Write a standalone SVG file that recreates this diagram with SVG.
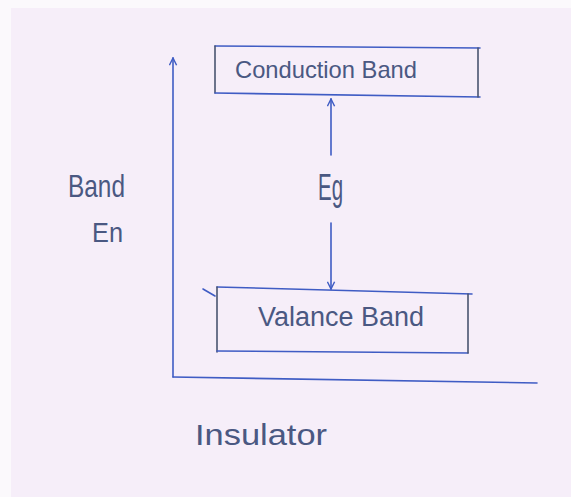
<svg xmlns="http://www.w3.org/2000/svg" width="571" height="497" viewBox="0 0 571 497">
  <style>
    .ln { stroke: #3f5cc4; stroke-width: 1.6; fill: none; stroke-linecap: round; }
    .dk { stroke: #4a5470; stroke-width: 1.6; fill: none; stroke-linecap: round; }
    .tx { font-family: "Liberation Sans", "DejaVu Sans", sans-serif; fill: #4a5882; }
  </style>
  <defs>
    <marker id="open" viewBox="0 0 10 10" refX="9" refY="5" markerWidth="9" markerHeight="9" markerUnits="userSpaceOnUse" orient="auto">
      <path d="M1,1 L9,5 L1,9" fill="none" stroke="#3f5cc4" stroke-width="1.6"/>
    </marker>
  </defs>
  <rect x="0" y="0" width="571" height="497" fill="#f6eef9"/>
  <rect x="0" y="0" width="11" height="497" fill="#fbf9fc"/>
  <rect x="0" y="0" width="571" height="8" fill="#fbf9fc"/>

  <g id="connectors">
    <line id="y-axis" class="ln" x1="173" y1="377" x2="173" y2="58" marker-end="url(#open)"/>
    <line id="x-axis" class="ln" x1="173" y1="377" x2="537" y2="383"/>
    <line id="eg-up" class="ln" x1="331" y1="155" x2="331" y2="99" marker-end="url(#open)"/>
    <line id="eg-down" class="ln" x1="331" y1="223" x2="331" y2="289" marker-end="url(#open)"/>
  </g>

  <g id="conduction-band">
    <line class="ln" x1="215" y1="46" x2="480" y2="48"/>
    <line class="dk" x1="215" y1="46" x2="215" y2="93"/>
    <line class="ln" x1="215" y1="93" x2="480" y2="97"/>
    <line class="dk" x1="478" y1="48" x2="478" y2="97"/>
    <text class="tx" x="235" y="78" font-size="24" textLength="182" lengthAdjust="spacingAndGlyphs">Conduction Band</text>
  </g>

  <g id="valence-band">
    <line class="ln" x1="217" y1="287" x2="472" y2="294"/>
    <line class="dk" x1="217" y1="287" x2="217" y2="352"/>
    <line class="ln" x1="217" y1="351" x2="468" y2="353"/>
    <line class="dk" x1="468" y1="294" x2="468" y2="353"/>
    <line class="ln" x1="203" y1="289" x2="215" y2="296"/>
    <text class="tx" x="258" y="326" font-size="27" textLength="166" lengthAdjust="spacingAndGlyphs">Valance Band</text>
  </g>

  <g id="eg-label">
    <text class="tx" x="318" y="200" font-size="36" textLength="25" lengthAdjust="spacingAndGlyphs">Eg</text>
  </g>

  <g id="axis-label">
    <text class="tx" x="68" y="197" font-size="32" textLength="57" lengthAdjust="spacingAndGlyphs">Band</text>
    <text class="tx" x="92" y="242" font-size="27" textLength="31" lengthAdjust="spacingAndGlyphs">En</text>
  </g>

  <g id="title">
    <text class="tx" x="195" y="445" font-size="30" textLength="132" lengthAdjust="spacingAndGlyphs">Insulator</text>
  </g>
</svg>
